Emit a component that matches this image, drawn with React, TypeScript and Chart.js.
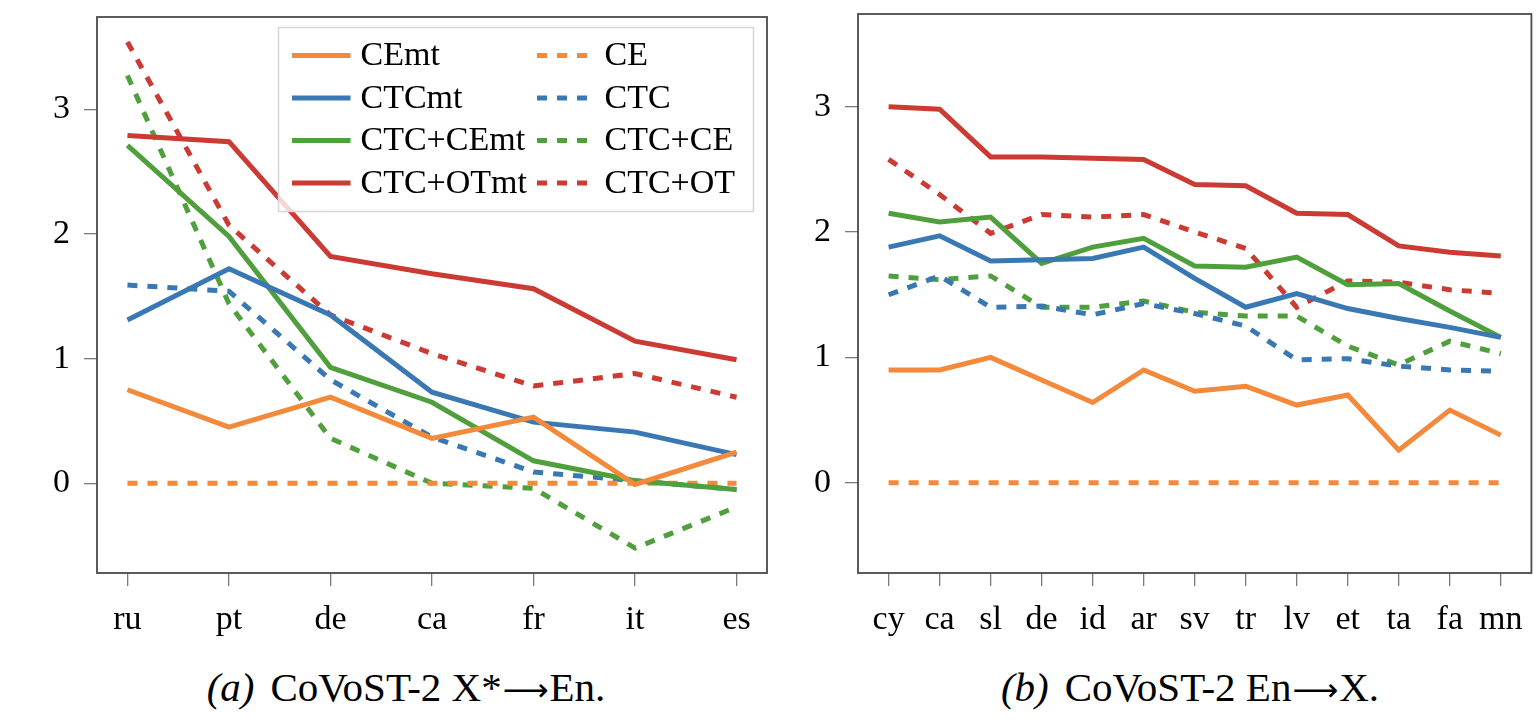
import React, { useEffect, useRef } from "react";
import { Chart, registerables } from "chart.js";

Chart.register(...registerables);

// ---------- data ----------
const leftCategories = ["ru", "pt", "de", "ca", "fr", "it", "es"];
const rightCategories = ["cy", "ca", "sl", "de", "id", "ar", "sv", "tr", "lv", "et", "ta", "fa", "mn"];
const yTickValues = [0, 1, 2, 3];

const seriesNames = ["CEmt", "CTCmt", "CTC+CEmt", "CTC+OTmt", "CE", "CTC", "CTC+CE", "CTC+OT"];

const leftCEmt = [0.75, 0.45, 0.69, 0.36, 0.53, -0.01, 0.25];
const leftCTCmt = [1.31, 1.72, 1.35, 0.73, 0.49, 0.41, 0.23];
const leftCTCCEmt = [2.71, 1.98, 0.93, 0.65, 0.18, 0.02, -0.05];
const leftCTCOTmt = [2.79, 2.74, 1.82, 1.68, 1.56, 1.14, 0.99];
const leftCE = [0, 0, 0, 0, 0, 0, 0];
const leftCTC = [1.59, 1.54, 0.83, 0.37, 0.09, 0.02, -0.05];
const leftCTCCE = [3.27, 1.44, 0.36, 0.0, -0.04, -0.52, -0.19];
const leftCTCOT = [3.54, 2.07, 1.35, 1.04, 0.78, 0.88, 0.69];

const rightCEmt = [0.9, 0.9, 1.0, 0.82, 0.64, 0.9, 0.73, 0.77, 0.62, 0.7, 0.26, 0.58, 0.38];
const rightCTCmt = [1.88, 1.97, 1.77, 1.78, 1.79, 1.88, 1.63, 1.4, 1.51, 1.39, 1.31, 1.24, 1.16];
const rightCTCCEmt = [2.15, 2.08, 2.12, 1.75, 1.88, 1.95, 1.73, 1.72, 1.8, 1.58, 1.59, 1.37, 1.16];
const rightCTCOTmt = [3.0, 2.98, 2.6, 2.6, 2.59, 2.58, 2.38, 2.37, 2.15, 2.14, 1.89, 1.84, 1.81];
const rightCE = [0, 0, 0, 0, 0, 0, 0, 0, 0, 0, 0, 0, 0];
const rightCTC = [1.5, 1.65, 1.4, 1.41, 1.34, 1.43, 1.35, 1.25, 0.98, 0.99, 0.93, 0.9, 0.89];
const rightCTCCE = [1.65, 1.62, 1.65, 1.4, 1.4, 1.45, 1.36, 1.33, 1.33, 1.09, 0.94, 1.13, 1.03];
const rightCTCOT = [2.58, 2.3, 1.99, 2.14, 2.12, 2.14, 2.0, 1.87, 1.4, 1.61, 1.6, 1.54, 1.51];

const leftSeries = [leftCEmt, leftCTCmt, leftCTCCEmt, leftCTCOTmt, leftCE, leftCTC, leftCTCCE, leftCTCOT];
const rightSeries = [rightCEmt, rightCTCmt, rightCTCCEmt, rightCTCOTmt, rightCE, rightCTC, rightCTCCE, rightCTCOT];

// ---------- styles ----------
const ORANGE = "#F3893A";
const BLUE = "#3A78B4";
const GREEN = "#4F9F3C";
const RED = "#CB3A33";
const seriesColors = [ORANGE, BLUE, GREEN, RED, ORANGE, BLUE, GREEN, RED];
const seriesDashed = [false, false, false, false, true, true, true, true];
const FONT = "'Liberation Serif', 'Times New Roman', serif";
const DASH = [10, 10];

function buildDatasets(series: number[][]) {
  return series.map((vals, i) => ({
    label: seriesNames[i],
    data: vals.map((v, j) => ({ x: j, y: v })),
    borderColor: seriesColors[i],
    backgroundColor: seriesColors[i],
    borderWidth: 5,
    borderDash: seriesDashed[i] ? DASH : [],
    borderCapStyle: "butt" as const,
    borderJoinStyle: "miter" as const,
    pointRadius: 0,
    pointHoverRadius: 0,
    tension: 0,
    fill: false,
  }));
}

const framePlugin = {
  id: "frame",
  afterDatasetsDraw(chart: any) {
    const { ctx, chartArea } = chart;
    ctx.save();
    ctx.strokeStyle = "#4a4a4a";
    ctx.lineWidth = 1.8;
    ctx.setLineDash([]);
    ctx.strokeRect(chartArea.left, chartArea.top, chartArea.right - chartArea.left, chartArea.bottom - chartArea.top);
    ctx.restore();
  },
};

const legendPlugin = {
  id: "boxLegend",
  afterDraw(chart: any) {
    const { ctx, chartArea } = chart;
    const boxW = 475;
    const boxH = 184;
    const bx = chartArea.right - 13.5 - boxW;
    const by = chartArea.top + 10.5;
    ctx.save();
    ctx.fillStyle = "rgba(255,255,255,0.8)";
    ctx.fillRect(bx, by, boxW, boxH);
    ctx.strokeStyle = "#d6d6d6";
    ctx.lineWidth = 1.5;
    ctx.strokeRect(bx, by, boxW, boxH);
    const ds = chart.data.datasets;
    const rowY = (r: number) => by + 28 + r * 42.5;
    ds.forEach((d: any, i: number) => {
      const col = i < 4 ? 0 : 1;
      const row = i % 4;
      const y = rowY(row);
      const sx0 = bx + (col === 0 ? 13.5 : 258.5);
      const sx1 = bx + (col === 0 ? 72 : 310);
      const tx = bx + (col === 0 ? 82 : 326);
      ctx.strokeStyle = d.borderColor;
      ctx.lineWidth = d.borderWidth;
      ctx.lineCap = "butt";
      ctx.setLineDash(d.borderDash || []);
      ctx.beginPath();
      ctx.moveTo(sx0, y);
      ctx.lineTo(sx1, y);
      ctx.stroke();
      ctx.setLineDash([]);
      ctx.fillStyle = "#000";
      ctx.font = `34px ${FONT}`;
      ctx.textAlign = "left";
      ctx.textBaseline = "middle";
      ctx.fillText(d.label, tx, y + 1);
    });
    ctx.restore();
  },
};

function zeroPadding(scale: any) {
  scale.paddingTop = 0;
  scale.paddingBottom = 0;
  scale.paddingLeft = 0;
  scale.paddingRight = 0;
}

function makeConfig(
  categories: string[],
  series: number[][],
  xPad: number,
  yAxisWidth: number,
  padding: { top: number; right: number; left: number; bottom: number },
  withLegend: boolean
): any {
  return {
    type: "line",
    data: { datasets: buildDatasets(series) },
    options: {
      animation: false,
      responsive: false,
      maintainAspectRatio: false,
      layout: { padding },
      plugins: {
        legend: { display: false },
        tooltip: { enabled: false },
        title: { display: false },
      },
      scales: {
        x: {
          type: "linear",
          min: -xPad,
          max: categories.length - 1 + xPad,
          afterBuildTicks: (scale: any) => {
            scale.ticks = categories.map((_, i) => ({ value: i }));
          },
          afterFit: (scale: any) => {
            scale.height = 77;
            zeroPadding(scale);
          },
          ticks: {
            autoSkip: false,
            maxRotation: 0,
            minRotation: 0,
            padding: 14,
            color: "#000",
            font: { family: FONT, size: 34 },
            callback: (v: any) => categories[Math.round(Number(v))] ?? "",
          },
          grid: {
            drawOnChartArea: false,
            drawTicks: true,
            tickLength: 13,
            color: "#7a7a7a",
            lineWidth: 1.3,
          },
          border: { display: false },
        },
        y: {
          type: "linear",
          min: -0.72,
          max: 3.74,
          afterBuildTicks: (scale: any) => {
            scale.ticks = yTickValues.map((v) => ({ value: v }));
          },
          afterFit: (scale: any) => {
            scale.width = yAxisWidth;
            zeroPadding(scale);
          },
          ticks: {
            padding: 14,
            color: "#000",
            font: { family: FONT, size: 34 },
            callback: (v: any) => String(v),
          },
          grid: {
            drawOnChartArea: false,
            drawTicks: true,
            tickLength: 13,
            color: "#7a7a7a",
            lineWidth: 1.3,
          },
          border: { display: false },
        },
      },
    },
    plugins: withLegend ? [framePlugin, legendPlugin] : [framePlugin],
  };
}

function ChartCanvas(props: {
  categories: string[];
  series: number[][];
  xPad: number;
  yAxisWidth: number;
  padding: { top: number; right: number; left: number; bottom: number };
  withLegend: boolean;
  left: number;
  width: number;
  height: number;
}) {
  const ref = useRef<HTMLCanvasElement | null>(null);
  useEffect(() => {
    if (!ref.current) return;
    const chart = new Chart(
      ref.current,
      makeConfig(props.categories, props.series, props.xPad, props.yAxisWidth, props.padding, props.withLegend)
    );
    return () => chart.destroy();
  }, []);
  return (
    <canvas
      ref={ref}
      width={props.width}
      height={props.height}
      style={{ position: "absolute", left: props.left, top: 0, width: props.width, height: props.height }}
    />
  );
}

const captionStyle: React.CSSProperties = {
  position: "absolute",
  top: 667,
  width: 700,
  textAlign: "center",
  fontFamily: FONT,
  fontSize: 41,
  lineHeight: "40px",
  color: "#000",
  whiteSpace: "nowrap",
};

const arrowStyle: React.CSSProperties = {
  fontFamily: "'DejaVu Sans', sans-serif",
  fontSize: 32,
  lineHeight: "40px",
  margin: "0 1px",
};

export default function App() {
  return (
    <div style={{ position: "absolute", left: 0, top: 0, width: 1539, height: 728, background: "#fff", overflow: "hidden" }}>
      <ChartCanvas
        categories={leftCategories}
        series={leftSeries}
        xPad={0.3}
        yAxisWidth={97}
        padding={{ top: 17, right: 10, left: 0, bottom: 0 }}
        withLegend={true}
        left={0}
        width={777}
        height={650}
      />
      <ChartCanvas
        categories={rightCategories}
        series={rightSeries}
        xPad={0.6}
        yAxisWidth={58}
        padding={{ top: 14, right: 7.6, left: 0, bottom: 0 }}
        withLegend={false}
        left={800}
        width={739}
        height={650}
      />
      <div style={{ ...captionStyle, left: 406 - 350 }}>
        <span style={{ fontStyle: "italic" }}>(a)</span>
        <span style={{ marginLeft: 16 }}>
          CoVoST-2 X*<span style={arrowStyle}>⟶</span>En.
        </span>
      </div>
      <div style={{ ...captionStyle, left: 1190 - 350 }}>
        <span style={{ fontStyle: "italic" }}>(b)</span>
        <span style={{ marginLeft: 16 }}>
          CoVoST-2 En<span style={arrowStyle}>⟶</span>X.
        </span>
      </div>
    </div>
  );
}
